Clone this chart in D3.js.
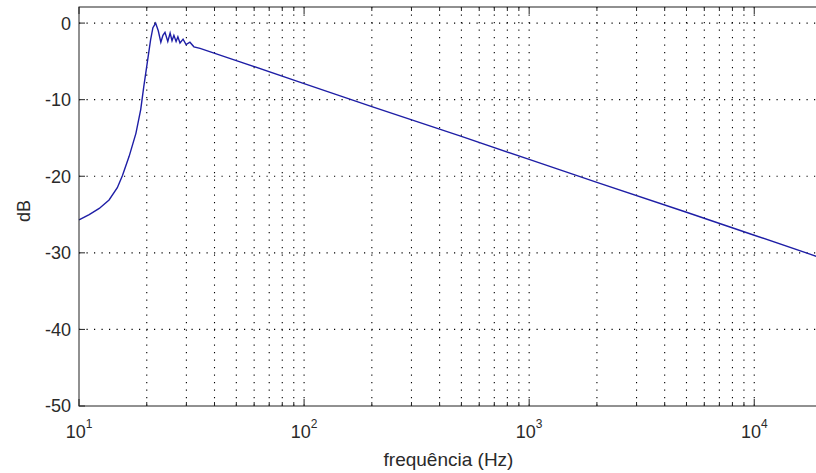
<!DOCTYPE html>
<html>
<head>
<meta charset="utf-8">
<script src="https://cdn.jsdelivr.net/npm/d3@7"></script>
<style>
  body { margin: 0; background: #fff; }
  text { font-family: "Liberation Sans", Arial, sans-serif; fill: #2a2a2a; }
</style>
</head>
<body>
<svg id="chart" width="816" height="473"></svg>
<script>
// frequency response (Hz, dB)
var freqHz = [10, 11.1, 12.3, 13.6, 14.8, 15.6, 16.7, 17.9, 18.8, 19.4, 20.1, 20.8, 21.3, 21.9,
  22.5, 23.1, 23.6, 24.1, 24.8, 25.4, 25.9, 26.4, 27.0, 27.5, 28.1, 29.0, 29.9, 31.1, 32.4, 34.5,
  50, 100, 200, 500, 1000, 2000, 5000, 10000, 20000];
var levelDb = [-25.7, -25.0, -24.2, -23.1, -21.5, -19.9, -17.4, -14.4, -11.3, -8.3, -5.2, -2.2, -0.6, 0,
  -1.0, -2.5, -1.6, -1.2, -2.4, -1.3, -2.3, -1.6, -2.4, -1.8, -2.6, -2.1, -2.8, -2.5, -3.1, -3.3,
  -4.9, -7.9, -10.9, -14.8, -17.8, -20.8, -24.7, -27.7, -30.7];

var xMajorTicks = [10, 100, 1000, 10000];
var yTicks = [0, -10, -20, -30, -40, -50];
var xLabel = "frequência (Hz)";
var yLabel = "dB";

var margin = {top: 7, left: 79},
    width = 743,
    height = 399;

var svg = d3.select("#chart");
var g = svg.append("g").attr("transform", "translate(" + margin.left + "," + margin.top + ")");

var x = d3.scaleLog().domain([10, 20000]).range([0, width]);
var y = d3.scaleLinear().domain([-50, 2.1]).range([height, 0]);

// all ticks 10,20..90,100,200.. like matlab minor grid
var allX = x.ticks();

// grid
g.append("g").selectAll("line").data(allX.filter(function(d){ return d > 10 && d < 20000; }))
  .enter().append("line")
  .attr("x1", function(d){ return x(d); }).attr("x2", function(d){ return x(d); })
  .attr("y1", 0).attr("y2", height)
  .attr("stroke", "#000").attr("stroke-width", 1.1).attr("stroke-dasharray", "1.2,6.3");
g.append("g").selectAll("line").data(yTicks.filter(function(d){ return d > -50; }))
  .enter().append("line")
  .attr("y1", function(d){ return y(d); }).attr("y2", function(d){ return y(d); })
  .attr("x1", 0).attr("x2", width)
  .attr("stroke", "#000").attr("stroke-width", 1.1).attr("stroke-dasharray", "1.2,6.3");

// curve
var line = d3.line()
  .x(function(d, i){ return x(freqHz[i]); })
  .y(function(d){ return y(d); });
g.append("path").datum(levelDb)
  .attr("d", line)
  .attr("fill", "none")
  .attr("stroke", "#1e1ea6")
  .attr("stroke-width", 1.4);

// box
g.append("rect").attr("width", width).attr("height", height)
  .attr("fill", "none").attr("stroke", "#222").attr("stroke-width", 1);

// ticks, pointing inward
function tickLen(d){ return xMajorTicks.indexOf(d) >= 0 ? 7 : 4; }
var xt = g.append("g");
xt.selectAll(".b").data(allX).enter().append("line")
  .attr("x1", function(d){ return x(d); }).attr("x2", function(d){ return x(d); })
  .attr("y1", height).attr("y2", function(d){ return height - tickLen(d); })
  .attr("stroke", "#222");
xt.selectAll(".t").data(allX).enter().append("line")
  .attr("x1", function(d){ return x(d); }).attr("x2", function(d){ return x(d); })
  .attr("y1", 0).attr("y2", function(d){ return tickLen(d); })
  .attr("stroke", "#222");
g.append("g").selectAll("line").data(yTicks).enter().append("line")
  .attr("x1", 0).attr("x2", 6)
  .attr("y1", function(d){ return y(d); }).attr("y2", function(d){ return y(d); })
  .attr("stroke", "#222");

// y labels
g.append("g").selectAll("text").data(yTicks).enter().append("text")
  .attr("x", -8).attr("y", function(d){ return y(d); })
  .attr("dy", "0.36em")
  .attr("text-anchor", "end")
  .style("font-size", "18px")
  .text(function(d){ return d; });

// x labels: 10 with exponent
var xl = g.append("g").selectAll("text").data(xMajorTicks).enter().append("text")
  .attr("x", function(d){ return x(d); }).attr("y", height + 32)
  .attr("text-anchor", "middle")
  .style("font-size", "18px");
xl.append("tspan").text("10");
xl.append("tspan").attr("dy", "-10").style("font-size", "12px")
  .text(function(d){ return Math.round(Math.log10(d)); });

// axis titles
svg.append("text")
  .attr("x", margin.left + width / 2 - 2).attr("y", 466)
  .attr("text-anchor", "middle")
  .style("font-size", "19px")
  .text(xLabel);
svg.append("text")
  .attr("transform", "translate(30,211) rotate(-90)")
  .attr("text-anchor", "middle")
  .style("font-size", "18px")
  .text(yLabel);
</script>
</body>
</html>
